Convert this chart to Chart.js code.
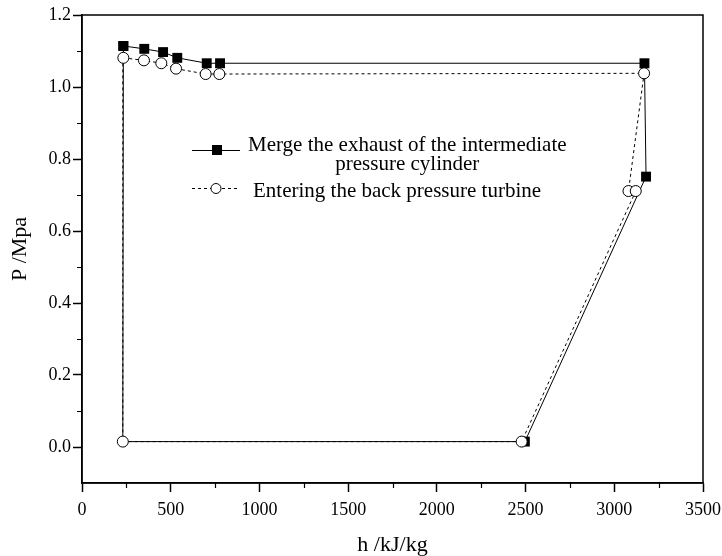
<!DOCTYPE html>
<html><head><meta charset="utf-8">
<script src="https://cdn.jsdelivr.net/npm/chart.js@4/dist/chart.umd.min.js"></script>
<style>html,body{margin:0;padding:0;background:#fff}#wrap{width:722px;height:556px}</style>
</head><body><div id="wrap"><canvas id="c" width="722" height="556"></canvas></div>
<script>
// Series: merged exhaust of intermediate pressure cylinder (filled squares, solid line)
const mergeH = [233, 351, 457, 537, 703, 778, 3170, 3179, 2496, 230, 233];
const mergeP = [1.114, 1.106, 1.097, 1.081, 1.066, 1.066, 1.066, 0.751, 0.015, 0.015, 1.114];
const mergeMarker = [1, 1, 1, 1, 1, 1, 1, 1, 1, 0, 1];
// Series: entering the back pressure turbine (open circles, dashed line)
const enterH = [233, 349, 447, 530, 697, 774, 3168, 3080, 3121, 2478, 230, 230];
const enterP = [1.081, 1.074, 1.066, 1.051, 1.036, 1.036, 1.038, 0.711, 0.711, 0.015, 0.015, 1.081];
const enterMarker = [1, 1, 1, 1, 1, 1, 1, 1, 1, 1, 1, 0];
const seriesNames = [["Merge the exhaust of the intermediate", "pressure cylinder"], ["Entering the back pressure turbine"]];
const xTickLabels = ["0", "500", "1000", "1500", "2000", "2500", "3000", "3500"];
const yTickLabels = ["0.0", "0.2", "0.4", "0.6", "0.8", "1.0", "1.2"];
const xTitle = "h /kJ/kg";
const yTitle = "P /Mpa";

const FONT = "'Liberation Serif', 'Times New Roman', serif";
const toPts = (xs, ys) => xs.map((x, i) => ({x: x, y: ys[i]}));

const isMajorX = v => Math.abs(v / 500 - Math.round(v / 500)) < 1e-6;
const isMajorY = v => Math.abs(v / 0.2 - Math.round(v / 0.2)) < 1e-6 && v > -0.05;

const framePlugin = {
  id: 'frame',
  afterDraw(chart) {
    const ctx = chart.ctx, a = chart.chartArea;
    const xs = chart.scales.x, ys = chart.scales.y;
    ctx.save();
    ctx.strokeStyle = '#000';
    ctx.lineWidth = 1.5;
    ctx.strokeRect(a.left, a.top, a.right - a.left, a.bottom - a.top);
    // minor ticks
    ctx.lineWidth = 1.2;
    ctx.beginPath();
    for (let v = 250; v < 3500; v += 500) {
      const p = Math.round(xs.getPixelForValue(v)) + 0.5;
      ctx.moveTo(p, a.bottom); ctx.lineTo(p, a.bottom + 5);
    }
    for (let k = 1; k <= 11; k += 2) {
      const p = Math.round(ys.getPixelForValue(k / 10)) + 0.5;
      ctx.moveTo(a.left, p); ctx.lineTo(a.left - 5, p);
    }
    ctx.stroke();
    // legend
    const lx0 = 192, lx1 = 240;
    ctx.lineWidth = 1;
    ctx.setLineDash([]);
    ctx.beginPath(); ctx.moveTo(lx0, 150.5); ctx.lineTo(lx1, 150.5); ctx.stroke();
    ctx.fillStyle = '#000';
    ctx.fillRect(212, 145, 10, 10);
    ctx.setLineDash([3, 3]);
    ctx.beginPath(); ctx.moveTo(lx0, 188.5); ctx.lineTo(lx1, 188.5); ctx.stroke();
    ctx.setLineDash([]);
    ctx.beginPath(); ctx.arc(216, 188.5, 5, 0, Math.PI * 2);
    ctx.fillStyle = '#fff'; ctx.fill(); ctx.stroke();
    ctx.fillStyle = '#000';
    ctx.font = '21px ' + FONT;
    ctx.textBaseline = 'alphabetic';
    ctx.textAlign = 'left';
    const w1 = ctx.measureText(seriesNames[0][0]).width;
    ctx.fillText(seriesNames[0][0], 248, 151);
    ctx.textAlign = 'center';
    ctx.fillText(seriesNames[0][1], 248 + w1 / 2, 170);
    ctx.textAlign = 'left';
    ctx.fillText(seriesNames[1][0], 253, 197);
    ctx.restore();
  }
};

new Chart(document.getElementById('c'), {
  type: 'scatter',
  data: {
    datasets: [
      {
        label: seriesNames[0].join(' '),
        data: toPts(mergeH, mergeP),
        showLine: true,
        borderColor: '#000',
        borderWidth: 1,
        backgroundColor: '#000',
        pointStyle: 'rect',
        pointRadius: mergeMarker.map(m => m ? 7 : 0),
        pointBorderWidth: 0,
        pointBackgroundColor: '#000',
        order: 2
      },
      {
        label: seriesNames[1][0],
        data: toPts(enterH, enterP),
        showLine: true,
        borderColor: '#000',
        borderWidth: 1,
        borderDash: [3, 3],
        pointStyle: 'circle',
        pointRadius: enterMarker.map(m => m ? 5.5 : 0),
        pointBorderWidth: 1,
        pointBorderColor: '#000',
        pointBackgroundColor: '#fff',
        order: 1
      }
    ]
  },
  options: {
    responsive: false,
    animation: false,
    devicePixelRatio: 1,
    layout: {padding: {top: 15, right: 19, left: 0, bottom: 0}},
    plugins: {legend: {display: false}, tooltip: {enabled: false}},
    scales: {
      x: {
        type: 'linear', min: 0, max: 3500,
        afterFit: s => { s.height = 73; s.paddingRight = 0; s.paddingLeft = 0; },
        ticks: {
          stepSize: 250, autoSkip: false, maxRotation: 0, padding: 7,
          color: '#000', font: {family: FONT, size: 18},
          callback: v => isMajorX(v) ? xTickLabels[Math.round(v / 500)] : ''
        },
        grid: {drawOnChartArea: false, tickLength: 9, tickWidth: 1.5,
          tickColor: c => (c.tick && isMajorX(c.tick.value)) ? '#000' : 'rgba(0,0,0,0)'},
        border: {display: true, color: '#000', width: 1.5},
        title: {display: true, text: xTitle, color: '#000', font: {family: FONT, size: 22, lineHeight: 1}, padding: {top: 0, bottom: 0}}
      },
      y: {
        type: 'linear', min: -0.1, max: 1.2,
        afterFit: s => { s.width = 82; s.paddingTop = 0; s.paddingBottom = 0; },
        ticks: {
          stepSize: 0.1, autoSkip: false, padding: 2,
          color: '#000', font: {family: FONT, size: 18},
          callback: v => isMajorY(v) ? yTickLabels[Math.round(v / 0.2)] : ''
        },
        grid: {drawOnChartArea: false, tickLength: 9, tickWidth: 1.5,
          tickColor: c => (c.tick && isMajorY(c.tick.value)) ? '#000' : 'rgba(0,0,0,0)'},
        border: {display: true, color: '#000', width: 1.5},
        title: {display: true, text: yTitle, color: '#000', font: {family: FONT, size: 22}, padding: {top: 7, bottom: 0}}
      }
    }
  },
  plugins: [framePlugin]
});
</script></body></html>
